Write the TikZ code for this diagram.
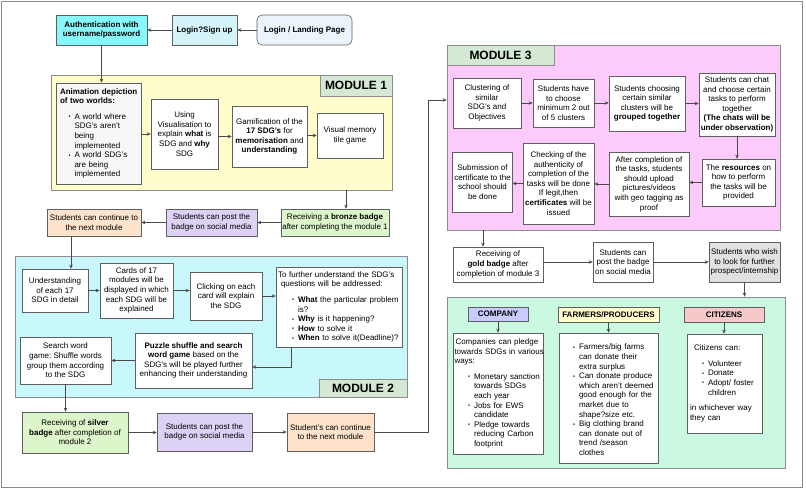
\documentclass[tikz,border=0pt]{standalone}
\usepackage{fontspec}
\setmainfont{Liberation Sans}
\usetikzlibrary{arrows.meta,calc}
\setlength{\parindent}{0pt}
\frenchspacing
\hyphenpenalty=10000
\exhyphenpenalty=10000
\definecolor{boxline}{HTML}{5F5F5F}
\definecolor{contline}{HTML}{8C8C8C}
\definecolor{arrcol}{HTML}{4A4A4A}
\definecolor{framec}{HTML}{8A8A8A}
\definecolor{authc}{HTML}{87F7FB}
\definecolor{loginc}{HTML}{D4F4FA}
\definecolor{landc}{HTML}{EBF4FB}
\definecolor{m1c}{HTML}{FFFDCC}
\definecolor{m2c}{HTML}{C9F8FC}
\definecolor{m3c}{HTML}{FCCBFB}
\definecolor{grpc}{HTML}{CBF8E0}
\definecolor{labgreen}{HTML}{D5E8D4}
\definecolor{greenc}{HTML}{DDF5CA}
\definecolor{postc}{HTML}{DED1F6}
\definecolor{contc}{HTML}{FDE3CB}
\definecolor{wishc}{HTML}{E1E1E1}
\definecolor{animc}{HTML}{F7F7F7}
\definecolor{coc}{HTML}{C9CBFC}
\definecolor{fac}{HTML}{FEFBCC}
\definecolor{cic}{HTML}{F6C9C9}
\tikzset{
  box/.style={draw=boxline, line width=0.6pt, fill=white, inner xsep=1.5pt, inner ysep=1pt,
    align=center, font=\fontsize{8}{9.6}\selectfont},
  lft/.style={align=left, text width=\myTW pt},
  cont/.style={draw=contline, line width=0.7pt},
  lab/.style={draw=contline, line width=0.7pt, fill=labgreen, font=\fontsize{12}{14}\bfseries\selectfont},
  hdr/.style={font=\fontsize{8}{9.6}\bfseries\selectfont},
  arr/.style={draw=arrcol, line width=0.6pt, -{Stealth[length=4pt,width=3.5pt]}},
  framest/.style={draw=framec, line width=0.9pt},
}
\newcommand{\mybox}[7][]{%
  \pgfmathsetmacro\myBW{#5-#3}%
  \pgfmathsetmacro\myBH{#6-#4}%
  \pgfmathsetmacro\myTW{#5-#3-3}%
  \pgfmathsetmacro\myCX{(#3+#5)/2}%
  \pgfmathsetmacro\myCY{(#4+#6)/2}%
  \node[box,minimum width=\myBW pt,minimum height=\myBH pt,#1] (#2) at (\myCX,\myCY) {#7};}
\newcommand{\bitem}[2]{\par\hangindent=\dimexpr#1+6pt\relax\hangafter=1\noindent\hspace*{#1}\makebox[6pt][l]{\raisebox{0.6pt}{\scalebox{0.7}{\textbullet}}}#2}
\begin{document}
\begin{tikzpicture}[x=1pt,y=-1pt]
\useasboundingbox (0,0) rectangle (806,489);
\draw[framest] (1,1) rectangle (802,487);

% top row
\mybox[fill=authc,hdr]{auth}{56}{15}{147}{45}{Authentication with\\username/password}
\mybox[fill=loginc,hdr]{login}{172}{15}{237}{45}{Login?Sign up}
\mybox[fill=landc,hdr,rounded corners=5pt]{land}{257}{15}{352}{45}{Login / Landing Page}

% module 1
\mybox[cont,fill=m1c]{m1}{51}{75}{392}{190}{}
\mybox[lab]{m1l}{320}{75}{392}{96}{MODULE 1}
\mybox[fill=animc,lft]{anim}{56}{83}{141}{184}{%
  \hspace*{2.5pt}{\bfseries Animation depiction\newline\hspace*{2.5pt}of two worlds:}\par\vspace{6pt}
  \bitem{11pt}{A world where\newline SDG's aren't\newline being\newline implemented}
  \bitem{11pt}{A world SDG's\newline are being\newline implemented}\par}
\mybox{vis}{151}{99}{218}{169}{Using\\Visualisation to\\explain \textbf{what} is\\SDG and \textbf{why}\\SDG}
\mybox{gam}{232}{106}{307}{167}{Gamification of the\\\textbf{17 SDG's} for\\\textbf{memorisation} and\\\textbf{understanding}}
\mybox{vmem}{317}{113}{383}{158}{Visual memory\\tile game}

\mybox[fill=greenc]{bronze}{281}{209}{389}{236}{Receiving a \textbf{bronze badge}\\after completing the module 1}
\mybox[fill=postc]{post1}{166}{209}{257}{236}{Students can post the\\badge on social media}
\mybox[fill=contc]{cont1}{47}{209}{141}{236}{Students can continue to\\the next module}

% module 2
\mybox[cont,fill=m2c]{m2}{15}{256}{407}{397}{}
\mybox[lab]{m2l}{319}{379}{407}{397}{MODULE 2}
\mybox{und}{22}{269}{88}{312}{Understanding\\of each 17\\SDG in detail}
\mybox{cards}{100}{263}{173}{318}{Cards of 17\\modules will be\\displayed in which\\each SDG will be\\explained}
\mybox{click}{190}{272}{262}{320}{Clicking on each\\card will explain\\the SDG}
\mybox[lft]{q}{276}{267}{402}{347}{%
  \hspace*{0.5pt}\mbox{To further understand the SDG's}\newline\hspace*{3.5pt}questions will be addressed:\par\vspace{6pt}
  \bitem{14.5pt}{\textbf{What} the particular problem\newline is?}
  \bitem{14.5pt}{\textbf{Why} is it happening?}
  \bitem{14.5pt}{\textbf{How} to solve it}
  \bitem{14.5pt}{\textbf{When} to solve it(Deadline)?}\par}
\mybox{puzzle}{135}{333}{252}{388}{\textbf{Puzzle shuffle and search}\\\textbf{word game} based on the\\SDG's will be played further\\enhancing their understanding}
\mybox{search}{20}{337}{111}{384}{Search word\\game: Shuffle words\\group them according\\to the SDG}

\mybox[fill=greenc]{silver}{22}{412}{128}{453}{Receiving of \textbf{silver}\\\textbf{badge} after completion of\\module 2}
\mybox[fill=postc]{post2}{157}{413}{252}{451}{Students can post the\\badge on social media}
\mybox[fill=contc]{cont2}{287}{413}{374}{451}{Student's can continue\\to the next module}

% module 3
\mybox[cont,fill=m3c]{m3}{447}{45}{780}{230}{}
\mybox[lab]{m3l}{447}{45}{554}{65}{MODULE 3}
\mybox{clu}{453}{78}{521}{128}{Clustering of\\similar\\SDG's and\\Objectives}
\mybox{stu}{533}{79}{594}{127}{Students have\\to choose\\minimum 2 out\\of 5 clusters}
\mybox{cho}{609}{76}{685}{131}{Students choosing\\certain similar\\clusters will be\\\textbf{grouped together}}
\mybox{chat}{699}{73}{775}{136}{Students can chat\\and choose certain\\tasks to perform\\together\\\textbf{(The chats will be}\\\textbf{under observation)}}
\mybox{res}{702}{159}{775}{206}{The \textbf{resources} on\\how to perform\\the tasks will be\\provided}
\mybox{after}{609}{152}{689}{216}{After completion of\\the tasks, students\\should upload\\pictures/videos\\with geo tagging as\\proof}
\mybox{check}{523}{143}{594}{224}{Checking of the\\authenticity of\\completion of the\\tasks will be done\\If legit,then\\\textbf{certificates} will be\\issued}
\mybox{sub}{453}{152}{512}{212}{Submission of\\certificate to the\\school should\\be done}

\mybox{gold}{453}{247}{543}{282}{Receiving of\\\textbf{gold badge} after\\completion of module 3}
\mybox{post3}{593}{242}{653}{282}{Students can\\post the badge\\on social media}
\mybox[fill=wishc]{wish}{709}{242}{780}{282}{Students who wish\\to look for further\\prospect/internship}

% stakeholders
\mybox[cont,fill=grpc]{grp}{447}{297}{785}{468}{}
\mybox[fill=coc,hdr]{hco}{468}{307}{528}{321}{COMPANY}
\mybox[fill=fac,hdr]{hfa}{558}{307}{659}{322}{FARMERS/PRODUCERS}
\mybox[fill=cic,hdr]{hci}{684}{307}{764}{322}{CITIZENS}
\mybox[lft]{co}{453}{333}{543}{454}{%
  \hspace*{1pt}Companies can pledge\newline \mbox{towards SDGs in various}\newline ways:\par\vspace{6pt}
  \bitem{13.5pt}{Monetary sanction\newline towards SDGs\newline each year}
  \bitem{13.5pt}{Jobs for EWS\newline candidate}
  \bitem{13.5pt}{Pledge towards\newline reducing Carbon\newline footprint}\par}
\mybox[lft]{fa}{559}{333}{658}{463}{%
  \bitem{12.5pt}{Farmers/big farms\newline can donate their\newline extra surplus}
  \bitem{12.5pt}{Can donate produce\newline which aren't deemed\newline good enough for the\newline market due to\newline shape?size etc.}
  \bitem{12.5pt}{Big clothing brand\newline can donate out of\newline trend /season\newline clothes}\par}
\mybox[lft]{ci}{687}{334}{762}{433}{%
  \hspace*{5.5pt}Citizens can:\par\vspace{6pt}
  \bitem{13.5pt}{Volunteer}
  \bitem{13.5pt}{Donate}
  \bitem{13.5pt}{Adopt/ foster\newline children}\par\vspace{6pt}
  \hspace*{1.5pt}in whichever way\par
  \hspace*{1.5pt}they can\par}

% connectors
\draw[arr] (land.west) -- (login.east);
\draw[arr] (login.west) -- (auth.east);
\draw[arr] (auth.south) -- (auth.south |- anim.north);
\draw[arr] (anim.east |- vis.west) -- (vis.west);
\draw[arr] (vis.east |- gam.west) -- (gam.west);
\draw[arr] (gam.east |- vmem.west) -- (vmem.west);
\draw[arr] ([xshift=11pt]bronze.north |- m1.south) -- ([xshift=11pt]bronze.north);
\draw[arr] (bronze.west) -- (post1.east);
\draw[arr] (post1.west) -- (cont1.east);
\draw[arr] ([xshift=-23pt]cont1.south) -- ([xshift=-23pt]cont1.south |- und.north);
\draw[arr] (und.east) -- (und.east -| cards.west);
\draw[arr] (cards.east) -- (cards.east -| click.west);
\draw[arr] (click.east) -- (click.east -| q.west);
\draw[arr] ([xshift=-48pt]q.south) |- ([yshift=-6.5pt]puzzle.east);
\draw[arr] (puzzle.west) -- (puzzle.west -| search.east);
\draw[arr] (search.south) -- (search.south |- silver.north);
\draw[arr] (silver.east) -- (silver.east -| post2.west);
\draw[arr] (post2.east) -- (post2.east -| cont2.west);
\coordinate (turn) at (428,100);
\draw[arr] (cont2.east) -| (turn) -- (turn -| m3.west);
\draw[arr] (clu.east) -- (clu.east -| stu.west);
\draw[arr] (stu.east) -- (stu.east -| cho.west);
\draw[arr] (cho.east) -- (cho.east -| chat.west);
\draw[arr] (chat.south) -- (chat.south |- res.north);
\draw[arr] (res.west) -- (res.west -| after.east);
\draw[arr] (after.west) -- (after.west -| check.east);
\draw[arr] (check.west) -- (check.west -| sub.east);
\draw[arr] ([xshift=-15pt]gold.north |- m3.south) -- ([xshift=-15pt]gold.north);
\draw[arr] (post3.west -| gold.east) -- (post3.west);
\draw[arr] (post3.east) -- (post3.east -| wish.west);
\draw[arr] (wish.south) -- (wish.south |- grp.north);
\draw[arr] (hco.south) -- (hco.south |- co.north);
\draw[arr] (hfa.south) -- (hfa.south |- fa.north);
\draw[arr] (hci.south) -- (hci.south |- ci.north);
\end{tikzpicture}
\end{document}
